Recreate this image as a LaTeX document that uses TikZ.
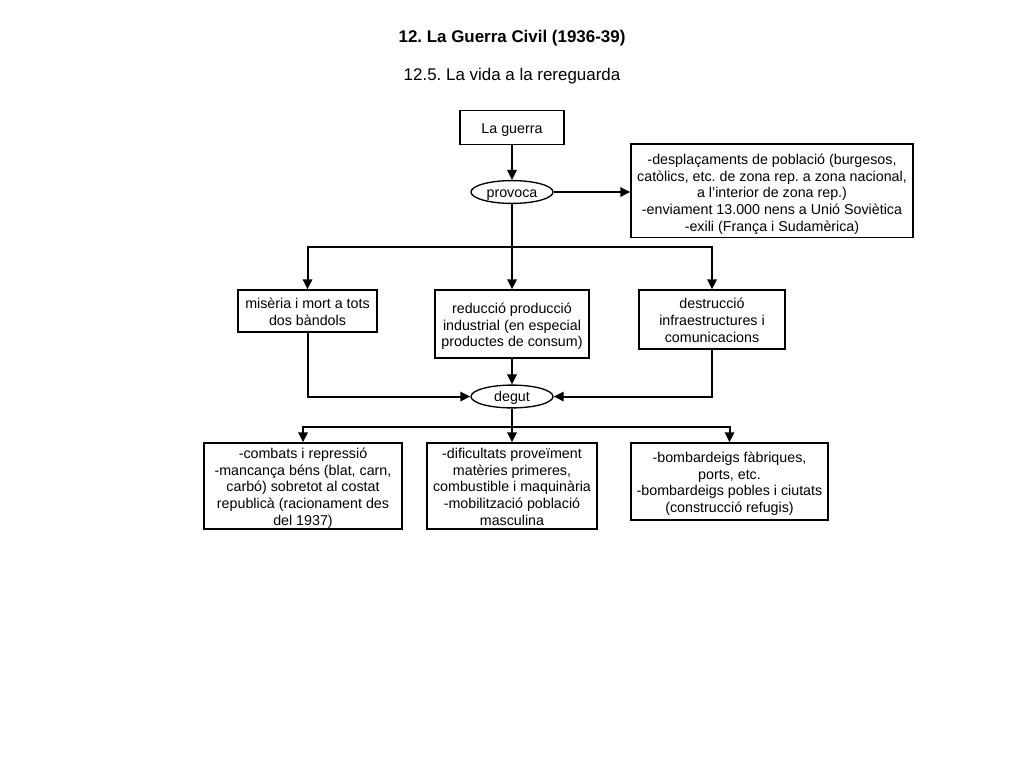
\documentclass[tikz,border=0pt]{standalone}
\usepackage{fontspec}
\setmainfont{Liberation Sans}
\frenchspacing
\usetikzlibrary{arrows.meta,shapes.geometric}

\tikzset{
    caixa/.style={draw, line width=1pt, align=center, inner sep=0pt,
        text height=12.3pt, text depth=3.3pt,
        font=\fontsize{10.7}{12.5}\selectfont},
    oval/.style={draw, ellipse, line width=1pt, inner sep=0pt,
        text height=9.8pt, text depth=2.3pt,
        font=\fontsize{10.7}{12.5}\selectfont},
    fletxa/.style={line width=1.5pt, -{Triangle[length=7.5pt,width=7pt]}},
    linia/.style={line width=1.5pt},
}

\begin{document}
\begin{tikzpicture}[x=0.75pt, y=-0.75pt]
    \useasboundingbox (0,0) rectangle (1024,768);

    \node [font=\fontsize{12.7}{15}\selectfont\bfseries] (titol) at (512,38) {12. La Guerra Civil (1936-39)};
    \node [font=\fontsize{12.7}{15}\selectfont] (subtitol) at (512,76) {12.5. La vida a la rereguarda};

    \node [caixa, minimum width=78pt, minimum height=25.5pt] (guerra) at (512,127.5) {La guerra};
    \node [oval, minimum width=61.5pt, minimum height=15.5pt] (provoca) at (512,192) {provoca};
    \node [caixa, text height=65.5pt, text depth=4.5pt, minimum width=211.5pt, minimum height=70pt] (efectes) at (772,190.5)
        {-desplaçaments de població (burgesos,\\catòlics, etc. de zona rep. a zona nacional,\\a l'interior de zona rep.)\\-enviament 13.000 nens a Unió Soviètica\\-exili (França i Sudamèrica)};

    \coordinate (dalt) at (512,247);
    \node [caixa, text height=24.8pt, minimum width=104.25pt, minimum height=31.5pt] (miseria) at (307.5,311)
        {misèria i mort a tots\\dos bàndols};
    \node [caixa, text height=37.3pt, minimum width=115.5pt, minimum height=51pt] (reduccio) at (512,324)
        {reducció producció\\industrial (en especial\\productes de consum)};
    \node [caixa, text height=37.3pt, minimum width=109.5pt, minimum height=44.25pt] (destruccio) at (712,319.5)
        {destrucció\\infraestructures i\\comunicacions};

    \node [oval, minimum width=61.5pt, minimum height=16pt] (degut) at (512,396.5) {degut};
    \coordinate (baix) at (512,427);

    \node [caixa, text height=61.3pt, text depth=2.8pt, minimum width=148.5pt, minimum height=64.5pt] (combats) at (303,486)
        {-combats i repressió\\-mancança béns (blat, carn,\\carbó) sobretot al costat\\republicà (racionament des\\del 1937)};
    \node [caixa, text height=61.3pt, text depth=2.8pt, minimum width=127.5pt, minimum height=64.5pt] (dificultats) at (512,486)
        {-dificultats proveïment\\matèries primeres,\\combustible i maquinària\\-mobilització població\\masculina};
    \node [caixa, text height=49.8pt, minimum width=147.75pt, minimum height=57.75pt] (bombardeigs) at (729.5,481.5)
        {-bombardeigs fàbriques,\\ports, etc.\\-bombardeigs pobles i ciutats\\(construcció refugis)};

    \draw [fletxa] (guerra) -- (provoca);
    \draw [fletxa] (provoca) -- (provoca -| efectes.west);
    \draw [linia] (provoca) -- (dalt);
    \draw [fletxa] (dalt) -| (miseria);
    \draw [fletxa] (dalt) -- (reduccio);
    \draw [fletxa] (dalt) -| (destruccio);

    \draw [fletxa] (miseria) |- (degut);
    \draw [fletxa] (reduccio) -- (degut);
    \draw [fletxa] (destruccio) |- (degut);

    \draw [linia] (degut) -- (baix);
    \draw [fletxa] (baix) -| (combats);
    \draw [fletxa] (baix) -- (dificultats);
    \draw [fletxa] (baix) -| (bombardeigs);
\end{tikzpicture}
\end{document}
